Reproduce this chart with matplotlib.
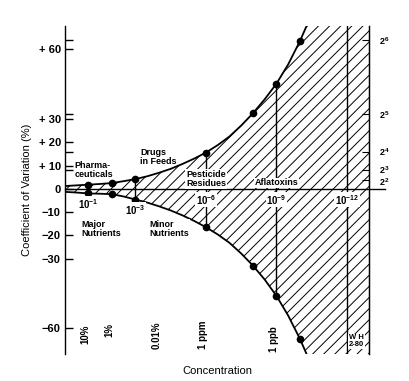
import numpy as np
import matplotlib
matplotlib.use('Agg')
import matplotlib.pyplot as plt
import matplotlib.transforms as mtransforms

# decades below 1 (x = -log10 C) and coefficient of variation (%)
curve_decades = [0, 0.5, 1, 1.5, 2, 2.5, 3, 3.5, 4, 4.5, 5, 5.5, 6, 6.5, 7, 7.5, 8, 8.5, 9, 9.5, 10, 10.5]
cv_upper_curve = [1.2, 1.5, 1.8, 2.1, 2.5, 3.3, 4.2, 5.4, 6.9, 8.6, 10.7, 13.0, 15.6, 18.8, 22.5, 27.2,
                  32.5, 38.5, 45.2, 53.5, 63.5, 75.0]
cv_lower_curve = [-1.3, -1.6, -2.0, -2.1, -2.3, -3.3, -4.6, -5.9, -7.5, -9.3, -11.4, -13.8, -16.5, -19.6,
                  -23.2, -27.8, -33.0, -39.0, -46.0, -54.5, -64.5, -76.0]

marker_decades = [1, 2, 3, 6, 8, 9, 10]
cv_upper_pts = [1.8, 2.5, 4.2, 15.6, 32.5, 45.2, 63.5]
cv_lower_pts = [-2.0, -2.3, -4.6, -16.5, -33.0, -46.0, -64.5]

bracket_decades = [3, 6, 9]
limit_decade = 12

left_ticks = [60, 30, 20, 10, 0, -10, -20, -30, -60]
left_labels = ['+ 60', '+ 30', '+ 20', '+ 10', '0', '\u221210', '\u221220', '\u221230', '\u221260']
left_minor = [8, 16, 32, 64]
right_ticks = [4, 8, 16, 32, 64]
right_labels = [r'$\mathbf{2^{2}}$', r'$\mathbf{2^{3}}$', r'$\mathbf{2^{4}}$', r'$\mathbf{2^{5}}$', r'$\mathbf{2^{6}}$']

conc_names = ['10%', '1%', '0.01%', '1 ppm', '1 ppb']
conc_decades = [1, 2, 4, 6, 9]
decade_names = [r'$\mathbf{10^{-1}}$', r'$\mathbf{10^{-3}}$', r'$\mathbf{10^{-6}}$', r'$\mathbf{10^{-9}}$',
                r'$\mathbf{10^{-12}}$']
decade_pos = [1, 3, 6, 9, 12]

plt.rcParams['font.family'] = ['Liberation Sans', 'DejaVu Sans']
plt.rcParams['font.weight'] = 'bold'
plt.rcParams['mathtext.fontset'] = 'custom'
plt.rcParams['mathtext.rm'] = 'Liberation Sans'
plt.rcParams['mathtext.bf'] = 'Liberation Sans:bold'
plt.rcParams['hatch.linewidth'] = 0.7

XMAX = 12.94
YMIN, YMAX = -71, 70

fig = plt.figure(figsize=(4.1, 3.81), dpi=100)
ax = fig.add_axes([65 / 410, 27 / 381, 304 / 410, 328 / 381])
ax.set_xlim(0, XMAX)
ax.set_ylim(YMIN, YMAX)

# hatched region between the curves, out to the right axis
xs = list(curve_decades) + [XMAX]
up = list(cv_upper_curve) + [YMAX + 20]
lo = list(cv_lower_curve) + [YMIN - 20]
ax.fill_between(xs, lo, up, facecolor='none', edgecolor='black', linewidth=0, hatch='///', zorder=1)

ax.plot(curve_decades, cv_upper_curve, color='black', lw=1.3, zorder=3)
ax.plot(curve_decades, cv_lower_curve, color='black', lw=1.3, zorder=3)
ax.plot(marker_decades, cv_upper_pts, 'o', color='black', ms=4.5, zorder=4)
ax.plot(marker_decades, cv_lower_pts, 'o', color='black', ms=4.5, zorder=4)

for d in bracket_decades:
    i = marker_decades.index(d)
    ax.plot([d, d], [cv_lower_pts[i], cv_upper_pts[i]], color='black', lw=1.0, zorder=2)
ax.axvline(limit_decade, color='black', lw=1.0, zorder=2)
ax.plot([0, 13.6], [0, 0], color='black', lw=1.0, clip_on=False, zorder=2)

for s in ['top', 'bottom']:
    ax.spines[s].set_visible(False)
for s in ['left', 'right']:
    ax.spines[s].set_linewidth(1.0)

ax.set_xticks([])
ax.set_yticks(left_ticks)
ax.set_yticklabels(left_labels)
ax.set_yticks(left_minor, minor=True)
ax.tick_params(axis='y', which='both', direction='in', length=6, width=1.0, labelsize=8, pad=3)

ax2 = ax.twinx()
ax2.set_ylim(YMIN, YMAX)
ax2.set_yticks(right_ticks)
ax2.set_yticklabels(right_labels)
ax2.tick_params(axis='y', direction='in', length=5, width=0.8, labelsize=6.5, pad=7)
for s in ['top', 'bottom', 'left']:
    ax2.spines[s].set_visible(False)
# the two lowest powers sit very close: nudge them apart a little
nudges = [-1.5, 1.0, 0, 0, 0]
for lab, dy in zip(ax2.get_yticklabels(), nudges):
    lab.set_transform(lab.get_transform() + mtransforms.ScaledTranslation(0, dy / 72, fig.dpi_scale_trans))

ax.set_ylabel('Coefficient of Variation (%)', fontsize=8, labelpad=5)
ax.set_xlabel('Concentration', fontsize=8, labelpad=9)

box = dict(facecolor='white', edgecolor='none', pad=0.5)
fs = 6.5
ax.text(0.4, 7.9, 'Pharma-\nceuticals', fontsize=fs, ha='left', va='center', linespacing=1.0, zorder=5)
ax.text(3.19, 13.9, 'Drugs\nin Feeds', fontsize=fs, ha='left', va='center', linespacing=1.0, zorder=5)
ax.text(5.15, 4.3, 'Pesticide\nResidues', fontsize=fs, ha='left', va='center', linespacing=1.0,
        bbox=box, zorder=5)
ax.text(9.0, 2.6, 'Aflatoxins', fontsize=fs, ha='center', va='center', bbox=box, zorder=5)
ax.text(0.68, -17.2, 'Major\nNutrients', fontsize=fs, ha='left', va='center', linespacing=1.0, zorder=5)
ax.text(3.6, -17.2, 'Minor\nNutrients', fontsize=fs, ha='left', va='center', linespacing=1.0,
        bbox=box, zorder=5)

dec_y = [-6.4, -9.0, -4.7, -4.7, -4.7]
for d, name, yy in zip(decade_pos, decade_names, dec_y):
    ax.text(d, yy, name, fontsize=7, ha='center', va='center', bbox=box, zorder=5)

conc_y = [-62.7, -60.5, -63.0, -62.7, -64.8]
for d, name, yy in zip(conc_decades, conc_names, conc_y):
    ax.text(d - 0.12, yy, name, fontsize=7, rotation=90, ha='center', va='center', zorder=5)

ax.text(12.08, -65.5, 'W H\n2-80', fontsize=5.5, ha='left', va='center', linespacing=1.0,
        bbox=box, zorder=5)

fig.savefig('out.png', dpi=100)
